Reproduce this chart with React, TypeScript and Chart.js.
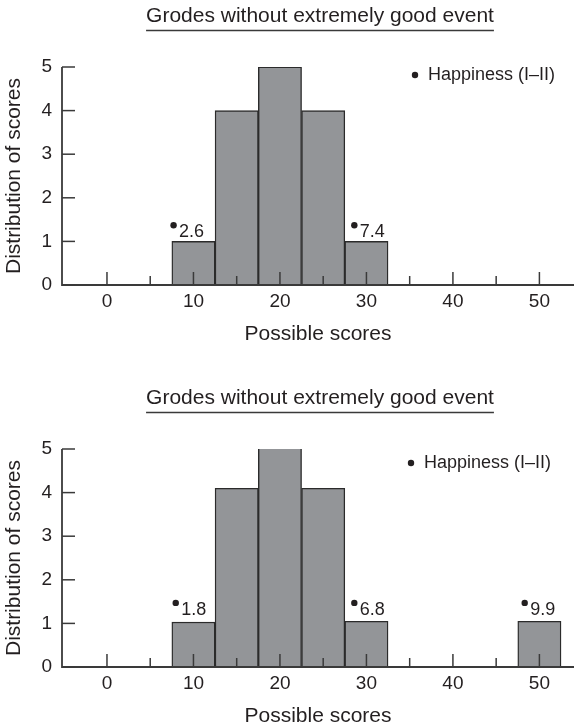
import React, { useEffect, useRef } from "react";
import { Chart, registerables } from "chart.js";

Chart.register(...registerables);

const chartTitle = "Grodes without extremely good event";
const xAxisTitle = "Possible scores";
const yAxisTitle = "Distribution of scores";
const legendLabel = "Happiness (I\u2013II)";

const xMajorTicks = [0, 10, 20, 30, 40, 50];
const xMinorTicks = [5, 15, 25, 35, 45];
const yTicks = [0, 1, 2, 3, 4, 5];

// Top panel
const topBinCenters = [10, 15, 20, 25, 30];
const topCounts = [1, 4, 5, 4, 1];
const topMarkerX = [7.7, 28.6];
const topMarkerY = [1.37, 1.37];
const topMarkerLabels = ["2.6", "7.4"];

// Bottom panel
const bottomBinCenters = [10, 15, 20, 25, 30, 50];
const bottomCounts = [1.03, 4.1, 5.07, 4.1, 1.05, 1.05];
const bottomMarkerX = [7.95, 28.6, 48.3];
const bottomMarkerY = [1.47, 1.47, 1.47];
const bottomMarkerLabels = ["1.8", "6.8", "9.9"];

const FONT = "'Liberation Sans', Arial, Helvetica, sans-serif";
const INK = "#231f20";
const AXIS = "#3a3a3a";

const decorPlugin = {
  id: "decor",
  afterDatasetsDraw(chart: any, _args: any, opts: any) {
    const ctx = chart.ctx;
    const xs = chart.scales.x;
    const ys = chart.scales.y;
    const area = chart.chartArea;
    ctx.save();
    ctx.strokeStyle = AXIS;
    // axis lines
    ctx.lineWidth = 1.8;
    ctx.beginPath();
    ctx.moveTo(area.left, ys.getPixelForValue(5));
    ctx.lineTo(area.left, ys.getPixelForValue(0));
    ctx.lineTo(area.right, ys.getPixelForValue(0));
    ctx.stroke();
    ctx.lineWidth = 1.5;
    // y ticks (inward)
    yTicks.forEach((v) => {
      const py = ys.getPixelForValue(v);
      ctx.beginPath();
      ctx.moveTo(area.left, py);
      ctx.lineTo(area.left + 13, py);
      ctx.stroke();
    });
    const y0 = ys.getPixelForValue(0);
    xMajorTicks.forEach((v) => {
      const px = xs.getPixelForValue(v);
      ctx.beginPath();
      ctx.moveTo(px, y0);
      ctx.lineTo(px, y0 - 13);
      ctx.stroke();
    });
    xMinorTicks.forEach((v) => {
      const px = xs.getPixelForValue(v);
      ctx.beginPath();
      ctx.moveTo(px, y0);
      ctx.lineTo(px, y0 - 9);
      ctx.stroke();
    });
    // marker labels
    const ds = chart.data.datasets[1];
    const meta = chart.getDatasetMeta(1);
    ctx.fillStyle = INK;
    ctx.font = `18px ${FONT}`;
    ctx.textAlign = "left";
    ctx.textBaseline = "middle";
    meta.data.forEach((pt: any, i: number) => {
      ctx.fillText(ds.markerLabels[i], pt.x + 5.5, pt.y + 7);
    });
    // title with underline
    const cx = (area.left + area.right) / 2 + 2;
    ctx.font = `21px ${FONT}`;
    ctx.textAlign = "center";
    ctx.textBaseline = "middle";
    ctx.fillText(chartTitle, cx, 16.5);
    const w = ctx.measureText(chartTitle).width;
    ctx.lineWidth = 1.5;
    ctx.beginPath();
    ctx.moveTo(cx - w / 2, 30.5);
    ctx.lineTo(cx + w / 2, 30.5);
    ctx.stroke();
    // legend
    const lx = area.right - opts.legendRight;
    const ly = area.top + opts.legendDown;
    ctx.beginPath();
    ctx.arc(lx, ly, 3.2, 0, Math.PI * 2);
    ctx.fill();
    ctx.font = `18px ${FONT}`;
    ctx.textAlign = "left";
    ctx.fillText(legendLabel, lx + 13, ly);
    ctx.restore();
  },
};

function Panel({ centers, counts, mx, my, mlabels, legendRight, legendDown }: any) {
  const ref = useRef<HTMLCanvasElement>(null);
  useEffect(() => {
    if (!ref.current) return;
    const chart = new Chart(ref.current, {
      type: "bar",
      data: {
        datasets: [
          {
            type: "bar",
            label: "counts",
            data: centers.map((c: number, i: number) => ({ x: c, y: counts[i] })),
            backgroundColor: "#939598",
            borderColor: "#2b2b2b",
            borderWidth: 1.4,
            borderSkipped: false,
            barPercentage: 1,
            categoryPercentage: 1,
            order: 2,
          },
          {
            type: "scatter",
            label: legendLabel,
            data: mx.map((x: number, i: number) => ({ x, y: my[i] })),
            markerLabels: mlabels,
            pointRadius: 3.2,
            pointBackgroundColor: INK,
            pointBorderWidth: 0,
            order: 1,
          } as any,
        ],
      },
      options: {
        animation: false,
        responsive: false,
        maintainAspectRatio: false,
        layout: { padding: { top: 67, left: 0, right: 0, bottom: 0 } },
        plugins: {
          legend: { display: false },
          tooltip: { enabled: false },
          title: { display: false },
          decor: { legendRight, legendDown },
        },
        scales: {
          x: {
            type: "linear",
            min: -5.2,
            max: 54,
            offset: false,
            grid: { display: false, drawTicks: false, offset: false },
            border: { display: false },
            afterBuildTicks: (s: any) => {
              s.ticks = xMajorTicks.map((v) => ({ value: v }));
            },
            afterFit: (s: any) => {
              s.height = 63;
            },
            ticks: { color: INK, font: { family: FONT, size: 19 }, padding: 5, maxRotation: 0, autoSkip: false },
            title: { display: true, text: xAxisTitle, color: INK, font: { family: FONT, size: 21 }, padding: { top: 0, bottom: 1 } },
          },
          y: {
            type: "linear",
            min: 0,
            max: 5,
            grid: { display: false, drawTicks: false },
            border: { display: false },
            afterBuildTicks: (s: any) => {
              s.ticks = yTicks.map((v) => ({ value: v }));
            },
            afterFit: (s: any) => {
              s.width = 62;
            },
            ticks: { color: INK, font: { family: FONT, size: 19 }, padding: 10 },
            title: { display: true, text: yAxisTitle, color: INK, font: { family: FONT, size: 21 }, padding: { top: 2, bottom: 0 } },
          },
        },
      } as any,
      plugins: [decorPlugin],
    });
    return () => chart.destroy();
  }, []);
  return <canvas ref={ref} width={578} height={348} style={{ display: "block", width: 578, height: 348 }} />;
}

export default function App() {
  return (
    <div style={{ position: "absolute", left: 0, top: 0, width: 578, height: 728, overflow: "hidden", background: "#fff" }}>
      <div style={{ position: "absolute", left: 0, top: 0 }}>
        <Panel centers={topBinCenters} counts={topCounts} mx={topMarkerX} my={topMarkerY} mlabels={topMarkerLabels} legendRight={159} legendDown={8} />
      </div>
      <div style={{ position: "absolute", left: 0, top: 382 }}>
        <Panel centers={bottomBinCenters} counts={bottomCounts} mx={bottomMarkerX} my={bottomMarkerY} mlabels={bottomMarkerLabels} legendRight={163} legendDown={14} />
      </div>
    </div>
  );
}
